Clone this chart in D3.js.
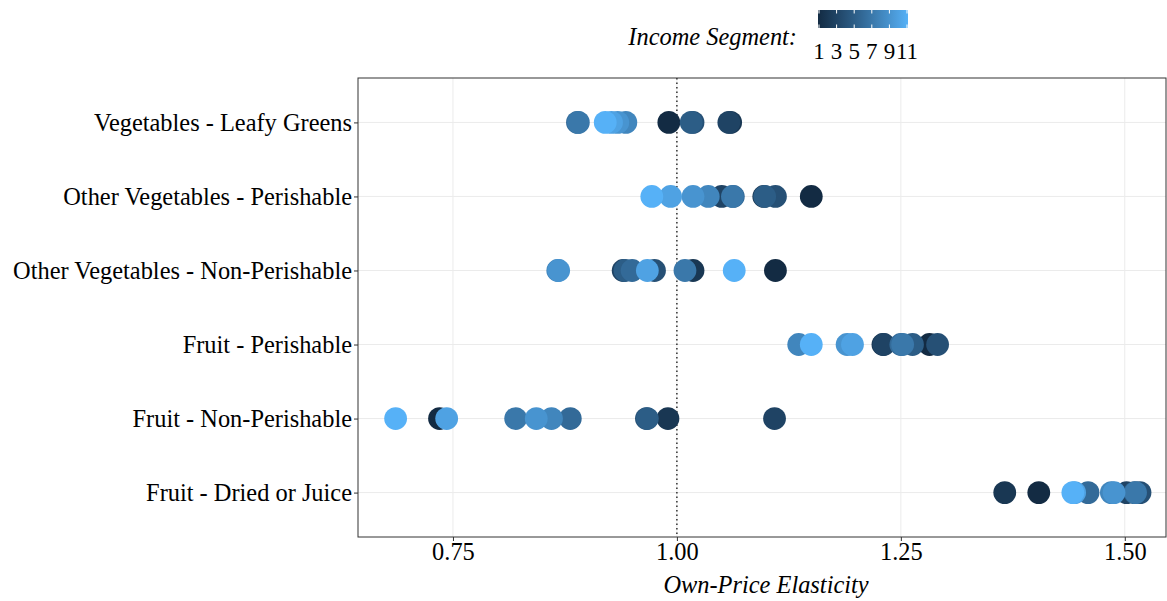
<!DOCTYPE html>
<html>
<head>
<meta charset="utf-8">
<script src="https://d3js.org/d3.v7.min.js"></script>
<style>
  body { margin: 0; background: #fff; }
  text { font-family: "Liberation Serif", "Times New Roman", serif; fill: #000; }
</style>
</head>
<body>
<div id="chart"></div>
<script>
// categories, top to bottom
var categories = [
  "Vegetables - Leafy Greens",
  "Other Vegetables - Perishable",
  "Other Vegetables - Non-Perishable",
  "Fruit - Perishable",
  "Fruit - Non-Perishable",
  "Fruit - Dried or Juice"
];
// income segments 1..11
var segments = [1, 2, 3, 4, 5, 6, 7, 8, 9, 10, 11];

// elasticity by segment (index 0 = segment 1)
var leafyGreens    = [0.991, 1.060, 1.058, 1.018, 1.016, 0.889, 0.890, 0.943, 0.934, 0.927, 0.920];
var vegPerishable  = [1.150, 1.097, 1.050, 1.110, 1.098, 1.063, 1.062, 1.035, 1.018, 0.993, 0.972];
var vegNonPerish   = [1.110, 1.018, 0.940, 0.975, 0.942, 0.950, 1.009, 0.867, 0.868, 0.967, 1.064];
var fruitPerish    = [1.282, 1.230, 1.231, 1.291, 1.263, 1.250, 1.252, 1.136, 1.190, 1.196, 1.150];
var fruitNonPerish = [0.735, 0.990, 1.109, 0.966, 0.967, 0.881, 0.820, 0.860, 0.843, 0.743, 0.686];
var fruitDried     = [1.404, 1.366, 1.502, 1.517, 1.511, 1.459, 1.512, 1.485, 1.488, 1.444, 1.442];

var series = [leafyGreens, vegPerishable, vegNonPerish, fruitPerish, fruitNonPerish, fruitDried];

var xTicks = [0.75, 1.00, 1.25, 1.50];
var legendTicks = [1, 3, 5, 7, 9, 11];

var W = 1167, H = 601;
var margin = {top: 78, right: 1, bottom: 64, left: 358};
var width = W - margin.left - margin.right,
    height = H - margin.top - margin.bottom;

var svg = d3.select("#chart").append("svg")
    .attr("width", W)
    .attr("height", H);

var g = svg.append("g")
    .attr("transform", "translate(" + margin.left + "," + margin.top + ")");

var x = d3.scaleLinear().domain([0.644, 1.546]).range([0, width]);
var y = d3.scalePoint().domain(categories).range([0, height]).padding(0.6);
var color = d3.scaleLinear().domain([1, 11])
    .range(["#132B43", "#56B1F7"])
    .interpolate(d3.interpolateLab);

// grid
g.selectAll(".vgrid").data(xTicks).enter().append("line")
    .attr("x1", function(d) { return x(d); })
    .attr("x2", function(d) { return x(d); })
    .attr("y1", 0).attr("y2", height)
    .attr("stroke", "#ebebeb").attr("stroke-width", 1);
g.selectAll(".hgrid").data(categories).enter().append("line")
    .attr("x1", 0).attr("x2", width)
    .attr("y1", function(d) { return y(d); })
    .attr("y2", function(d) { return y(d); })
    .attr("stroke", "#ebebeb").attr("stroke-width", 1);

// reference line at 1
g.append("line")
    .attr("x1", x(1)).attr("x2", x(1))
    .attr("y1", 0).attr("y2", height)
    .attr("stroke", "#000").attr("stroke-width", 1.2)
    .attr("stroke-dasharray", "1.5,3");

// points
var pts = [];
series.forEach(function(vals, i) {
  vals.forEach(function(v, j) {
    pts.push({cat: categories[i], seg: segments[j], val: v});
  });
});
g.selectAll(".pt").data(pts).enter().append("circle")
    .attr("cx", function(d) { return x(d.val); })
    .attr("cy", function(d) { return y(d.cat); })
    .attr("r", 11.4)
    .attr("fill", function(d) { return color(d.seg); });

// panel border
g.append("rect")
    .attr("x", 0).attr("y", 0)
    .attr("width", width).attr("height", height)
    .attr("fill", "none").attr("stroke", "#333").attr("stroke-width", 1);

// axes
var xAxis = g.append("g")
    .attr("transform", "translate(0," + height + ")")
    .call(d3.axisBottom(x).tickValues(xTicks).tickFormat(d3.format(".2f")).tickSizeOuter(0).tickSize(4).tickPadding(2));
xAxis.select(".domain").remove();
xAxis.selectAll("line").attr("stroke", "#333");
xAxis.selectAll("text").style("font-size", "24.4px").attr("fill", "#000");

var yAxis = g.append("g")
    .call(d3.axisLeft(y).tickSizeOuter(0).tickSize(4).tickPadding(2));
yAxis.select(".domain").remove();
yAxis.selectAll("line").attr("stroke", "#333");
yAxis.selectAll("text").style("font-size", "24.4px").attr("fill", "#000");

// axis title
svg.append("text")
    .attr("x", margin.left + width / 2 + 4)
    .attr("y", 593)
    .attr("text-anchor", "middle")
    .style("font-size", "24.4px")
    .style("font-style", "italic")
    .text("Own-Price Elasticity");

// legend
var lx = 818, lw = 90, ly = 10, lh = 18;
var defs = svg.append("defs");
var grad = defs.append("linearGradient").attr("id", "lg");
d3.range(0, 1.0001, 0.1).forEach(function(t) {
  grad.append("stop").attr("offset", t).attr("stop-color", color(1 + t * 10));
});
svg.append("rect")
    .attr("x", lx).attr("y", ly).attr("width", lw).attr("height", lh)
    .attr("fill", "url(#lg)");
var lscale = d3.scaleLinear().domain([1, 11]).range([lx + 1, lx + lw - 1]);
legendTicks.forEach(function(t) {
  svg.append("line").attr("x1", lscale(t)).attr("x2", lscale(t))
      .attr("y1", ly).attr("y2", ly + 3.5).attr("stroke", "#fff");
  svg.append("line").attr("x1", lscale(t)).attr("x2", lscale(t))
      .attr("y1", ly + lh - 3.5).attr("y2", ly + lh).attr("stroke", "#fff");
});
svg.selectAll(".ltick").data(legendTicks).enter().append("text")
    .attr("x", function(d) { return lscale(d); })
    .attr("y", 59)
    .attr("text-anchor", "middle")
    .style("font-size", "23px")
    .text(function(d) { return d; });
svg.append("text")
    .attr("x", 797).attr("y", 45)
    .attr("text-anchor", "end")
    .style("font-size", "24.4px")
    .style("font-style", "italic")
    .text("Income Segment:");
</script>
</body>
</html>
